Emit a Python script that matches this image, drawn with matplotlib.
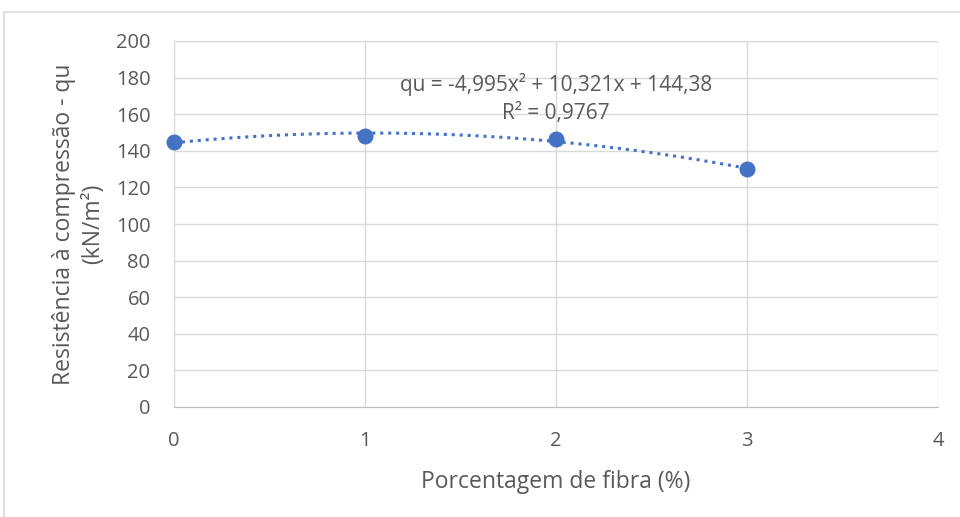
import numpy as np
import matplotlib.pyplot as plt
from matplotlib.patches import Rectangle

# data
fibra = [0, 1, 2, 3]
qu = [144.8, 148.1, 146.4, 130.1]
coef = [-4.995, 10.321, 144.38]  # Excel trendline: qu = a x^2 + b x + c
eq_label = "qu = -4,995x² + 10,321x + 144,38"
r2_label = "R² = 0,9767"
xticks = [0, 1, 2, 3, 4]
yticks = list(range(0, 201, 20))

plt.rcParams['font.family'] = ['Open Sans', 'DejaVu Sans']
gray = '#595959'
blue = '#4472C4'

fig = plt.figure(figsize=(9.6, 5.17), dpi=100)
ax = fig.add_axes([174 / 960, 1 - 407 / 517, (938 - 174) / 960, (407 - 41) / 517])

# chart border (only left and top edges fall inside the picture)
fig.patches.append(Rectangle((4 / 960, -0.05), 1.2, 1.05 - 12 / 517, transform=fig.transFigure,
                             fill=False, edgecolor='#d9d9d9', linewidth=1.2))

xs = np.linspace(0, 3, 200)
ax.plot(xs, np.polyval(coef, xs), linestyle=(0, (1, 1.6)), color=blue, linewidth=2.2, zorder=2)
ax.scatter(fibra, qu, s=110, color=blue, zorder=3, clip_on=False)

ax.text(2.0, 176.5, eq_label, ha='center', va='center', fontsize=15, color=gray)
ax.text(2.0, 160.6, r2_label, ha='center', va='center', fontsize=15, color=gray)

ax.set_xlim(0, 4)
ax.set_ylim(0, 200)
ax.set_xticks(xticks)
ax.set_yticks(yticks)
ax.grid(True, color='#d9d9d9', linewidth=1)
ax.set_axisbelow(True)
for side in ['top', 'right', 'left']:
    ax.spines[side].set_visible(False)
ax.spines['bottom'].set_color('#bfbfbf')
ax.tick_params(length=0, labelsize=14.5, labelcolor=gray)
ax.tick_params(axis='y', pad=17)
ax.tick_params(axis='x', pad=17)

ax.set_xlabel("Porcentagem de fibra (%)", fontsize=16.5, color=gray, labelpad=14)
ax.set_ylabel("Resistência à compressão - qu\n(kN/m²)", fontsize=16.5, color=gray,
              labelpad=8, linespacing=1.25)

fig.savefig("out.png", dpi=100)
